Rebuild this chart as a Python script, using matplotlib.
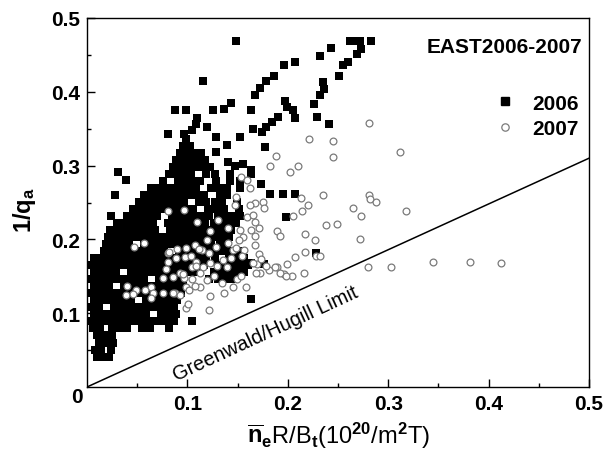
import numpy as np
import matplotlib
matplotlib.use("Agg")
import matplotlib.pyplot as plt
from matplotlib.lines import Line2D

plt.rcParams["font.family"] = "Liberation Sans"
plt.rcParams["font.weight"] = "bold"
plt.rcParams["mathtext.fontset"] = "custom"
plt.rcParams["mathtext.rm"] = "Liberation Sans:bold"
plt.rcParams["mathtext.it"] = "Liberation Sans:bold"
plt.rcParams["mathtext.bf"] = "Liberation Sans:bold"
plt.rcParams["mathtext.default"] = "rm"

# ── 2006 data: dense core, read row by row (row height, x positions) ──────
core_y = [0.040, 0.050, 0.060, 0.070, 0.080, 0.089, 0.099, 0.108, 0.118,
          0.127, 0.137, 0.146, 0.156, 0.165, 0.175, 0.184, 0.194, 0.203,
          0.213, 0.222, 0.232, 0.241, 0.251, 0.260, 0.270, 0.279, 0.289,
          0.298, 0.308, 0.317, 0.327, 0.336]
core_x = [
    [0.010, 0.016, 0.022],
    [0.008, 0.014, 0.024],
    [0.012, 0.020, 0.026],
    [0.010, 0.017, 0.025],
    [0.006, 0.013, 0.025, 0.033, 0.040, 0.055, 0.063, 0.082],
    [0.005, 0.012, 0.020, 0.027, 0.035, 0.042, 0.050, 0.057, 0.065, 0.072, 0.080, 0.087],
    [0.007, 0.014, 0.022, 0.029, 0.037, 0.044, 0.052, 0.059, 0.074, 0.082, 0.089],
    [0.005, 0.012, 0.027, 0.035, 0.042, 0.050, 0.057, 0.065, 0.072, 0.080, 0.087],
    [0.007, 0.014, 0.022, 0.029, 0.037, 0.044, 0.059, 0.067, 0.074, 0.082, 0.090],
    [0.005, 0.012, 0.020, 0.027, 0.035, 0.042, 0.050, 0.057, 0.065, 0.072, 0.080, 0.087, 0.094],
    [0.007, 0.014, 0.022, 0.037, 0.044, 0.052, 0.059, 0.067, 0.074, 0.082, 0.089, 0.096],
    [0.005, 0.012, 0.020, 0.027, 0.035, 0.042, 0.050, 0.057, 0.072, 0.080, 0.087, 0.095,
     0.122, 0.130, 0.137, 0.145],
    [0.007, 0.014, 0.022, 0.029, 0.044, 0.052, 0.059, 0.067, 0.074, 0.082, 0.089, 0.097,
     0.104, 0.112, 0.126, 0.133, 0.141, 0.148, 0.156],
    [0.005, 0.012, 0.020, 0.027, 0.035, 0.042, 0.050, 0.057, 0.065, 0.072, 0.080, 0.087, 0.095,
     0.102, 0.110, 0.117, 0.130, 0.138, 0.145, 0.153, 0.160],
    [0.007, 0.014, 0.022, 0.029, 0.037, 0.044, 0.052, 0.059, 0.067, 0.074, 0.082, 0.089, 0.097,
     0.104, 0.112, 0.119, 0.127, 0.141, 0.148, 0.156],
    [0.017, 0.024, 0.032, 0.039, 0.047, 0.054, 0.062, 0.069, 0.077, 0.092, 0.099, 0.107,
     0.114, 0.122, 0.129, 0.137, 0.145, 0.152],
    [0.019, 0.027, 0.034, 0.042, 0.057, 0.064, 0.072, 0.079, 0.087, 0.094, 0.102, 0.109,
     0.117, 0.124, 0.132, 0.139],
    [0.021, 0.029, 0.036, 0.044, 0.051, 0.059, 0.066, 0.074, 0.081, 0.089, 0.096, 0.104, 0.111,
     0.119, 0.126, 0.134, 0.141],
    [0.023, 0.031, 0.038, 0.046, 0.053, 0.061, 0.068, 0.083, 0.091, 0.098, 0.106, 0.113,
     0.121, 0.128, 0.136, 0.143],
    [0.030, 0.036, 0.043, 0.051, 0.058, 0.066, 0.081, 0.088, 0.096, 0.103, 0.111, 0.118,
     0.126, 0.133, 0.141, 0.148],
    [0.024, 0.040, 0.047, 0.055, 0.062, 0.070, 0.085, 0.092, 0.100, 0.107, 0.115, 0.122, 0.130,
     0.137, 0.145, 0.152],
    [0.046, 0.053, 0.061, 0.068, 0.076, 0.083, 0.091, 0.098, 0.106, 0.121, 0.128, 0.136,
     0.151],
    [0.052, 0.059, 0.067, 0.074, 0.082, 0.089, 0.097, 0.112, 0.119, 0.127, 0.134, 0.149],
    [0.057, 0.064, 0.072, 0.079, 0.087, 0.094, 0.102, 0.109, 0.117, 0.132, 0.139],
    [0.064, 0.071, 0.079, 0.086, 0.094, 0.101, 0.109, 0.124, 0.131, 0.139, 0.152],
    [0.076, 0.091, 0.098, 0.106, 0.113, 0.128, 0.142, 0.152],
    [0.082, 0.089, 0.097, 0.104, 0.119, 0.127, 0.142],
    [0.086, 0.093, 0.101, 0.108, 0.116, 0.123],
    [0.089, 0.096, 0.104, 0.111, 0.118],
    [0.093, 0.100, 0.107, 0.114],
    [0.096, 0.103],
    [0.099],
]

# ── 2006 data: scattered points outside the core ──────────────────────────
x_2006_out = [0.148, 0.116, 0.143, 0.136, 0.125, 0.099, 0.088, 0.232, 0.243, 0.196,
              0.207, 0.186, 0.178, 0.172, 0.167, 0.197, 0.199, 0.205, 0.207, 0.190,
              0.184, 0.178, 0.174, 0.165, 0.163, 0.177, 0.229, 0.241, 0.226, 0.232,
              0.236, 0.235, 0.251, 0.255, 0.260, 0.269, 0.273, 0.272, 0.262, 0.267,
              0.283, 0.152, 0.139, 0.128, 0.120, 0.109, 0.110, 0.105, 0.097, 0.081,
              0.031, 0.039, 0.028, 0.163, 0.163, 0.173, 0.182, 0.195, 0.207, 0.198,
              0.228, 0.163, 0.105, 0.163, 0.176, 0.128, 0.140, 0.147, 0.155]
y_2006_out = [0.469, 0.414, 0.385, 0.377, 0.375, 0.375, 0.375, 0.449, 0.459, 0.436,
              0.440, 0.422, 0.414, 0.405, 0.395, 0.388, 0.379, 0.375, 0.364, 0.366,
              0.359, 0.352, 0.346, 0.350, 0.375, 0.325, 0.366, 0.356, 0.384, 0.395,
              0.404, 0.413, 0.422, 0.436, 0.441, 0.451, 0.458, 0.469, 0.469, 0.469,
              0.469, 0.339, 0.328, 0.339, 0.352, 0.356, 0.364, 0.348, 0.343, 0.343,
              0.292, 0.280, 0.260, 0.294, 0.288, 0.275, 0.262, 0.262, 0.262, 0.231,
              0.181, 0.119, 0.089, 0.168, 0.166, 0.318, 0.305, 0.300, 0.302]

# ── 2007 data ─────────────────────────────────────────────────────────────
x_2007_spread = [0.281, 0.221, 0.245, 0.245, 0.188, 0.182, 0.202, 0.210, 0.312, 0.235,
                 0.281, 0.282, 0.288, 0.213, 0.220, 0.214, 0.265, 0.273, 0.238, 0.249,
                 0.189, 0.192, 0.217, 0.227, 0.272, 0.217, 0.228, 0.232, 0.207, 0.280,
                 0.303, 0.199, 0.189, 0.196, 0.216, 0.204, 0.172, 0.181, 0.169, 0.345,
                 0.381, 0.412, 0.318, 0.205]
y_2007_spread = [0.358, 0.336, 0.333, 0.312, 0.313, 0.299, 0.292, 0.300, 0.318, 0.260,
                 0.260, 0.255, 0.251, 0.256, 0.247, 0.239, 0.243, 0.232, 0.220, 0.221,
                 0.211, 0.204, 0.207, 0.199, 0.200, 0.183, 0.178, 0.177, 0.176, 0.162,
                 0.163, 0.167, 0.162, 0.153, 0.155, 0.151, 0.155, 0.158, 0.167, 0.170,
                 0.170, 0.168, 0.238, 0.232]

x_2007_mid = [0.153, 0.159, 0.162, 0.148, 0.167, 0.162, 0.159, 0.165, 0.175, 0.167,
              0.163, 0.171, 0.152, 0.155, 0.151, 0.167, 0.167, 0.171, 0.173, 0.165,
              0.145, 0.140, 0.143, 0.148, 0.156, 0.154, 0.139, 0.135, 0.140, 0.130,
              0.123, 0.120, 0.128, 0.122, 0.115, 0.109, 0.116, 0.123, 0.129, 0.126,
              0.113, 0.105, 0.097, 0.099, 0.088, 0.113, 0.120, 0.134, 0.136, 0.123,
              0.122, 0.099, 0.101, 0.145, 0.158, 0.149, 0.153, 0.168, 0.178, 0.187,
              0.192, 0.198, 0.176, 0.147, 0.093, 0.102]
y_2007_mid = [0.285, 0.280, 0.269, 0.258, 0.249, 0.247, 0.231, 0.233, 0.251, 0.224,
              0.213, 0.215, 0.213, 0.203, 0.199, 0.205, 0.193, 0.180, 0.173, 0.168,
              0.186, 0.195, 0.175, 0.188, 0.186, 0.178, 0.163, 0.172, 0.215, 0.226,
              0.211, 0.199, 0.190, 0.181, 0.186, 0.170, 0.163, 0.168, 0.164, 0.150,
              0.154, 0.146, 0.148, 0.135, 0.127, 0.136, 0.145, 0.141, 0.127, 0.123,
              0.105, 0.107, 0.112, 0.136, 0.136, 0.146, 0.151, 0.154, 0.164, 0.163,
              0.154, 0.151, 0.242, 0.247, 0.125, 0.132]

x_2007_inner = [0.047, 0.057, 0.081, 0.090, 0.099, 0.108, 0.081, 0.089, 0.098, 0.105,
                0.079, 0.076, 0.086, 0.093, 0.097, 0.081, 0.110, 0.039, 0.049, 0.064,
                0.066, 0.076, 0.086, 0.064, 0.058, 0.046, 0.040, 0.112, 0.104, 0.109,
                0.096, 0.108, 0.082]
y_2007_inner = [0.190, 0.195, 0.181, 0.187, 0.188, 0.193, 0.170, 0.175, 0.176, 0.163,
                0.160, 0.148, 0.149, 0.154, 0.240, 0.238, 0.223, 0.125, 0.132, 0.136,
                0.127, 0.127, 0.128, 0.120, 0.131, 0.126, 0.137, 0.187, 0.178, 0.164,
                0.153, 0.137, 0.183]

# Greenwald/Hugill limit line
limit_x = [0.0, 0.5]
limit_y = [0.0, 0.31]

xticks = [0.1, 0.2, 0.3, 0.4, 0.5]
yticks = [0.1, 0.2, 0.3, 0.4, 0.5]

# ── assemble series ───────────────────────────────────────────────────────
x06 = np.concatenate([np.concatenate(core_x), x_2006_out])
y06 = np.concatenate([np.concatenate([[yv] * len(xs) for yv, xs in zip(core_y, core_x)]),
                      y_2006_out])
x07 = np.concatenate([x_2007_spread, x_2007_mid, x_2007_inner])
y07 = np.concatenate([y_2007_spread, y_2007_mid, y_2007_inner])

fig = plt.figure(figsize=(6.06, 4.64), dpi=100)
fig.patch.set_facecolor("white")
ax = fig.add_axes([87 / 606, 1 - 388 / 464, 502 / 606, 369 / 464])

ax.plot(limit_x, limit_y, color="black", lw=1.1, zorder=1)
ax.scatter(x06, y06, marker="s", s=30, color="black", linewidths=0, zorder=2)
ax.scatter(x07, y07, marker="o", s=24, facecolor="white", edgecolor="#7a7a7a",
           linewidths=0.9, zorder=3)

ax.set_xlim(0, 0.5)
ax.set_ylim(0, 0.5)
ax.set_xticks(xticks)
ax.set_yticks(yticks)
ax.set_xticks([0.05, 0.15, 0.25, 0.35, 0.45], minor=True)
ax.set_yticks([0.05, 0.15, 0.25, 0.35, 0.45], minor=True)
ax.set_xticklabels([f"{v:.1f}" for v in xticks])
ax.set_yticklabels([f"{v:.1f}" for v in yticks])
ax.tick_params(which="both", direction="in", top=False, right=False, width=1.0,
               labelsize=15)
ax.tick_params(which="major", length=5.5)
ax.tick_params(which="minor", length=2.8)
ax.tick_params(axis="x", pad=5)
ax.tick_params(axis="y", pad=5)
for sp in ax.spines.values():
    sp.set_linewidth(1.0)

fig.text(77 / 606, 1 - 398 / 464, "0", ha="center", va="center", fontsize=15,
         fontweight="bold")

ax.set_xlabel(r"$\overline{\mathrm{n}}_\mathrm{e}$R/B$_\mathrm{t}$(10$^{20}$/m$^2$T)",
              fontsize=17, labelpad=5)
fig.text(25 / 606, 1 - 210 / 464, r"1/q$_\mathrm{a}$", rotation=90, ha="center",
         va="center", fontsize=17, fontweight="bold")

ax.text(0.986, 0.924, "EAST2006-2007", transform=ax.transAxes, ha="right",
        va="center", fontsize=15, fontweight="bold")

ax.text(0.178, 0.0735, "Greenwald/Hugill Limit", rotation=24.8,
        rotation_mode="anchor", ha="center", va="center", fontsize=14.5,
        fontweight="normal")

handles = [
    Line2D([], [], marker="s", ls="none", color="black", markersize=5.3),
    Line2D([], [], marker="o", ls="none", markerfacecolor="white",
           markeredgecolor="#7a7a7a", markeredgewidth=0.9, markersize=5.3),
]
ax.legend(handles, ["2006", "2007"], loc="upper right", bbox_to_anchor=(0.98, 0.795),
          frameon=False, fontsize=15, handlelength=1.0, handletextpad=0.8,
          labelspacing=0.3, borderpad=0, borderaxespad=0)

fig.savefig("out.png", dpi=100, facecolor="white")
